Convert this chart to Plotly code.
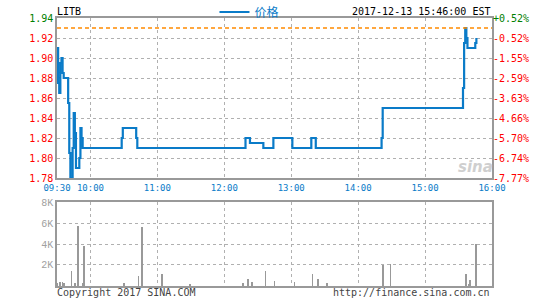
import plotly.graph_objects as go

DAY = "2017-12-13 "
SYMBOL = "LITB"
STAMP = "2017-12-13 15:46:00 EST"
PREV_CLOSE = 1.93

# price change points (step line)
price_times = ["09:30", "09:31", "09:32", "09:33", "09:34", "09:35", "09:36", "09:40", "09:41",
               "09:42", "09:44", "09:45", "09:46", "09:47", "09:50", "09:51", "09:52", "09:53",
               "10:28", "10:29", "10:41", "10:42", "12:19", "12:23", "12:35", "12:44", "13:01",
               "13:18", "13:22", "14:21", "14:22", "15:34", "15:35", "15:36", "15:37", "15:38",
               "15:45", "15:46"]
price_vals = [1.91, 1.875, 1.865, 1.895, 1.90, 1.885, 1.88, 1.855, 1.805,
              1.78, 1.81, 1.845, 1.825, 1.79, 1.80, 1.83, 1.82, 1.81,
              1.82, 1.83, 1.82, 1.81, 1.82, 1.815, 1.81, 1.82, 1.81,
              1.82, 1.81, 1.82, 1.85, 1.87, 1.915, 1.93, 1.92, 1.91,
              1.915, 1.92]

vol_times = ["09:30", "09:33", "09:35", "09:36", "09:43", "09:46", "09:49", "09:53", "09:54",
             "10:30", "10:43", "10:46", "11:04", "11:29", "12:17", "12:21", "12:25", "12:37",
             "12:45", "13:03", "13:19", "13:24", "13:32", "14:22", "14:29", "15:37", "15:39",
             "15:40", "15:46"]
vol_vals = [320, 380, 380, 300, 1400, 250, 5690, 250, 3780,
            300, 950, 5590, 1100, 230, 250, 640, 350, 1400,
            450, 350, 1110, 640, 250, 2000, 2070, 1110, 200,
            540, 4040]

time_ticks = ["09:30", "10:00", "11:00", "12:00", "13:00", "14:00", "15:00", "16:00"]
price_ticks = [1.94, 1.92, 1.90, 1.88, 1.86, 1.84, 1.82, 1.80, 1.78]
price_labels = ["1.94", "1.92", "1.90", "1.88", "1.86", "1.84", "1.82", "1.80", "1.78"]
pct_labels = ["+0.52%", "-0.52%", "-1.55%", "-2.59%", "-3.63%", "-4.66%", "-5.70%", "-6.74%", "-7.77%"]
vol_ticks = [2000, 4000, 6000, 8000]
vol_labels = ["2K", "4K", "6K", "8K"]

BLUE = "#0a7bc8"
GRID = "#b0b0b0"
FRAME = "#999999"
MONO = "DejaVu Sans Mono, Noto Sans CJK SC, monospace"
LMONO = "Liberation Mono, DejaVu Sans Mono, monospace"

px = [DAY + t for t in price_times]
vx = [DAY + t for t in vol_times]

def colored(lbl, v):
    if v > PREV_CLOSE:
        return f'<span style="color:#008000">{lbl}</span>'
    return lbl

fig = go.Figure()
fig.add_trace(go.Scatter(x=px, y=price_vals, mode="lines", line=dict(color=BLUE, width=2.2, shape="hv"),
                         name="价格", xaxis="x", yaxis="y", showlegend=True))
fig.add_trace(go.Scatter(x=px, y=price_vals, mode="lines", line=dict(width=0), opacity=0,
                         xaxis="x", yaxis="y3", showlegend=False, hoverinfo="skip"))
fig.add_trace(go.Bar(x=vx, y=vol_vals, marker=dict(color="#999999", line=dict(width=0)),
                     width=45000, xaxis="x2", yaxis="y2", showlegend=False))

fig.add_shape(type="line", xref="paper", x0=0, x1=1, yref="y", y0=PREV_CLOSE, y1=PREV_CLOSE,
              line=dict(color="#ff8a00", width=1.5, dash="4px,3px"))

xr = [DAY + "09:30", DAY + "16:00"]
common_x = dict(type="date", range=xr, tickvals=[DAY + t for t in time_ticks],
                showgrid=True, gridcolor=GRID, griddash="dot", gridwidth=1,
                showline=True, linecolor=FRAME, linewidth=1.5, mirror=True, ticks="", zeroline=False)

fig.update_layout(
    width=545, height=300,
    margin=dict(l=57, r=53, t=18, b=14, autoexpand=False),
    paper_bgcolor="white", plot_bgcolor="white",
    bargap=0,
    xaxis=dict(**common_x, domain=[0, 1], anchor="y", ticktext=time_ticks,
               tickfont=dict(family=MONO, size=9, color=BLUE)),
    xaxis2=dict(**common_x, domain=[0, 1], anchor="y2", showticklabels=False),
    yaxis=dict(domain=[0.403, 1], range=[1.78, 1.94], tickvals=price_ticks,
               ticktext=[colored(l, v) for l, v in zip(price_labels, price_ticks)],
               tickfont=dict(family=MONO, size=10, color="#ff0000"),
               showgrid=True, gridcolor=GRID, griddash="dot",
               showline=True, linecolor=FRAME, linewidth=1.5, mirror=True, ticks="", zeroline=False),
    yaxis3=dict(overlaying="y", side="right", anchor="x", range=[1.78, 1.94], tickvals=price_ticks,
                ticktext=[colored(l, v) for l, v in zip(pct_labels, price_ticks)],
                tickfont=dict(family=MONO, size=10, color="#ff0000"),
                showgrid=False, showline=False, ticks="", zeroline=False),
    yaxis2=dict(domain=[0, 0.3134], range=[0, 8000], tickvals=vol_ticks, ticktext=vol_labels,
                tickfont=dict(family=LMONO, size=10, color="#a0a0a0"),
                showgrid=True, gridcolor=GRID, griddash="dot",
                showline=True, linecolor=FRAME, linewidth=1.5, mirror=True, ticks="", zeroline=False),
    legend=dict(orientation="h", x=0.362, xanchor="left", y=1.0224, yanchor="middle",
                font=dict(family="Noto Sans CJK SC", size=12, color=BLUE),
                itemwidth=30, bgcolor="rgba(0,0,0,0)"),
    showlegend=True,
)

ann_font = dict(family=MONO, size=10, color="#000000")
fig.add_annotation(text=SYMBOL, xref="paper", yref="paper", x=0, y=1.0224, xanchor="left",
                   yanchor="middle", showarrow=False, font=ann_font, xshift=-2)
fig.add_annotation(text=STAMP, xref="paper", yref="paper", x=1, y=1.0224, xanchor="right",
                   yanchor="middle", showarrow=False, font=ann_font)
fig.add_annotation(text="Copyright 2017 SINA.COM", xref="paper", yref="paper", x=0, y=-0.026,
                   xanchor="left", yanchor="middle", showarrow=False,
                   font=dict(family=MONO, size=10, color="#444444"), xshift=-2)
fig.add_annotation(text="http://finance.sina.com.cn", xref="paper", yref="paper", x=1, y=-0.026,
                   xanchor="right", yanchor="middle", showarrow=False,
                   font=dict(family=MONO, size=10, color="#444444"))
fig.add_annotation(text="<b><i>sina</i></b>", xref="paper", yref="paper", x=0.961, y=0.444,
                   xanchor="center", yanchor="middle", showarrow=False,
                   font=dict(family="DejaVu Sans", size=15, color="#cfcfcf"))

fig.write_html("out.html")
